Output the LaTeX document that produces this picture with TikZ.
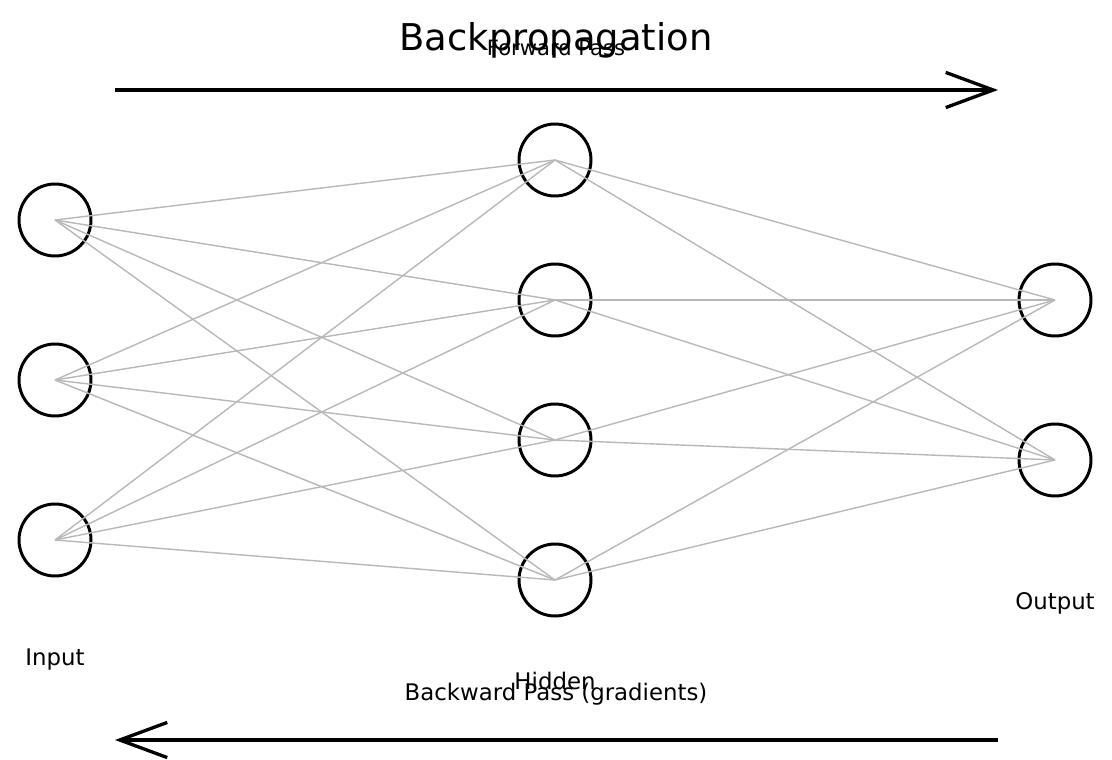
\documentclass[tikz,border=0pt]{standalone}
\usepackage{fontspec}
\setmainfont{DejaVu Sans}
\usetikzlibrary{arrows.meta}
\begin{document}
\begin{tikzpicture}[x=0.02cm,y=-0.02cm,
  neuron/.style={circle,draw=black,line width=1.7pt,minimum size=72*0.02cm,inner sep=0pt},
  edge/.style={draw=black!28,line width=0.8pt},
  flow/.style={line width=1.9pt,-{Straight Barb[length=27pt,width=20pt,line width=1.9pt]}},
  lbl/.style={font=\fontsize{13}{15}\selectfont}]
\useasboundingbox (0,0) rectangle (1112,760);
\foreach \n/\y in {i1/220,i2/380,i3/540}{\node[neuron] (\n) at (55,\y) {};}
\foreach \n/\y in {h1/160,h2/300,h3/440,h4/580}{\node[neuron] (\n) at (555,\y) {};}
\foreach \n/\y in {o1/300,o2/460}{\node[neuron] (\n) at (1055,\y) {};}
\foreach \a in {i1,i2,i3}{\foreach \b in {h1,h2,h3,h4}{\draw[edge] (\a.center) -- (\b.center);}}
\foreach \a in {h1,h2,h3,h4}{\foreach \b in {o1,o2}{\draw[edge] (\a.center) -- (\b.center);}}
\coordinate (f1) at (115,90); \coordinate (f2) at (998,90);
\coordinate (b1) at (998,740); \coordinate (b2) at (115,740);
\draw[flow] (f1) -- (f2);
\draw[flow] (b1) -- (b2);
\node[font=\fontsize{21}{25}\selectfont] (title) at (556,40) {Backpropagation};
\node[font=\fontsize{12}{14}\selectfont] (fwd) at (556,48) {Forward Pass};
\node[lbl] (bwd) at (556,694) {Backward Pass (gradients)};
\node[lbl] (tin) at (55,660) {Input};
\node[lbl] (thid) at (555,681) {Hidden};
\node[lbl] (tout) at (1055,603) {Output};
\end{tikzpicture}
\end{document}
